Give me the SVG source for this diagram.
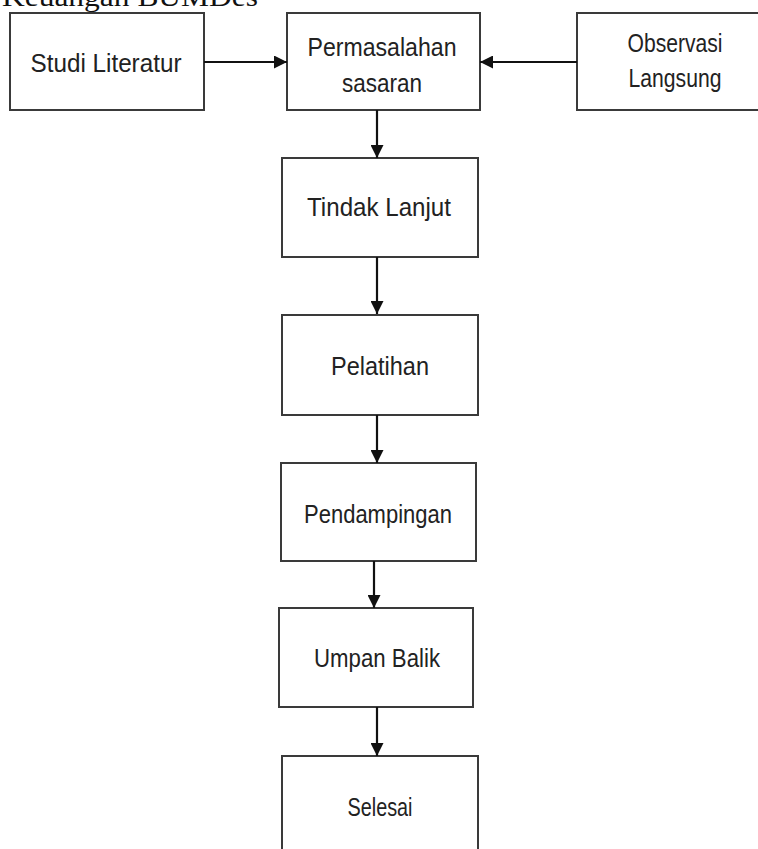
<svg xmlns="http://www.w3.org/2000/svg" width="758" height="849" viewBox="0 0 758 849">
<style>
.box{fill:#fff;stroke:#3a3a3a;stroke-width:2}
.lbl{font-family:"Liberation Sans",Arial,sans-serif;font-size:26px;fill:#222;text-anchor:middle}
.title{font-family:"Liberation Serif","Times New Roman",serif;font-size:27px;fill:#111}
.conn{stroke:#111;stroke-width:2.2;fill:none;marker-end:url(#ah)}
</style>
<defs>
<marker id="ah" markerUnits="userSpaceOnUse" markerWidth="13" markerHeight="13" viewBox="0 0 13 13" refX="13" refY="6.5" orient="auto">
<path d="M0,0 L13,6.5 L0,13 Z" fill="#111"/>
</marker>
</defs>
<rect width="758" height="849" fill="#fff"/>
<text class="title" x="2" y="6" textLength="256" lengthAdjust="spacingAndGlyphs">Keuangan BUMDes</text>
<g id="studi"><rect class="box" x="10" y="13" width="194" height="97"/><text class="lbl" x="106" y="72" textLength="151" lengthAdjust="spacingAndGlyphs">Studi Literatur</text></g>
<g id="permasalahan"><rect class="box" x="287" y="13" width="193" height="97"/><text class="lbl" x="382" y="56" textLength="149" lengthAdjust="spacingAndGlyphs">Permasalahan</text><text class="lbl" x="382" y="92" textLength="80" lengthAdjust="spacingAndGlyphs">sasaran</text></g>
<g id="observasi"><rect class="box" x="577" y="13" width="200" height="97"/><text class="lbl" x="675" y="52" textLength="95" lengthAdjust="spacingAndGlyphs">Observasi</text><text class="lbl" x="675" y="87" textLength="93" lengthAdjust="spacingAndGlyphs">Langsung</text></g>
<g id="tindak"><rect class="box" x="282" y="158" width="196" height="99"/><text class="lbl" x="379" y="216" textLength="144" lengthAdjust="spacingAndGlyphs">Tindak Lanjut</text></g>
<g id="pelatihan"><rect class="box" x="282" y="315" width="196" height="100"/><text class="lbl" x="380" y="375" textLength="98" lengthAdjust="spacingAndGlyphs">Pelatihan</text></g>
<g id="pendampingan"><rect class="box" x="281" y="463" width="195" height="98"/><text class="lbl" x="378" y="523" textLength="148" lengthAdjust="spacingAndGlyphs">Pendampingan</text></g>
<g id="umpan"><rect class="box" x="279" y="608" width="194" height="99"/><text class="lbl" x="377" y="667" textLength="126" lengthAdjust="spacingAndGlyphs">Umpan Balik</text></g>
<g id="selesai"><rect class="box" x="282" y="756" width="196" height="120"/><text class="lbl" x="380" y="816" textLength="65" lengthAdjust="spacingAndGlyphs">Selesai</text></g>
<g id="connectors">
<line class="conn" x1="204" y1="62" x2="287" y2="62"/>
<line class="conn" x1="577" y1="62" x2="480" y2="62"/>
<line class="conn" x1="377" y1="110" x2="377" y2="158"/>
<line class="conn" x1="377" y1="257" x2="377" y2="314"/>
<line class="conn" x1="377" y1="415" x2="377" y2="463"/>
<line class="conn" x1="374" y1="561" x2="374" y2="608"/>
<line class="conn" x1="377" y1="707" x2="377" y2="756"/>
</g>
</svg>
